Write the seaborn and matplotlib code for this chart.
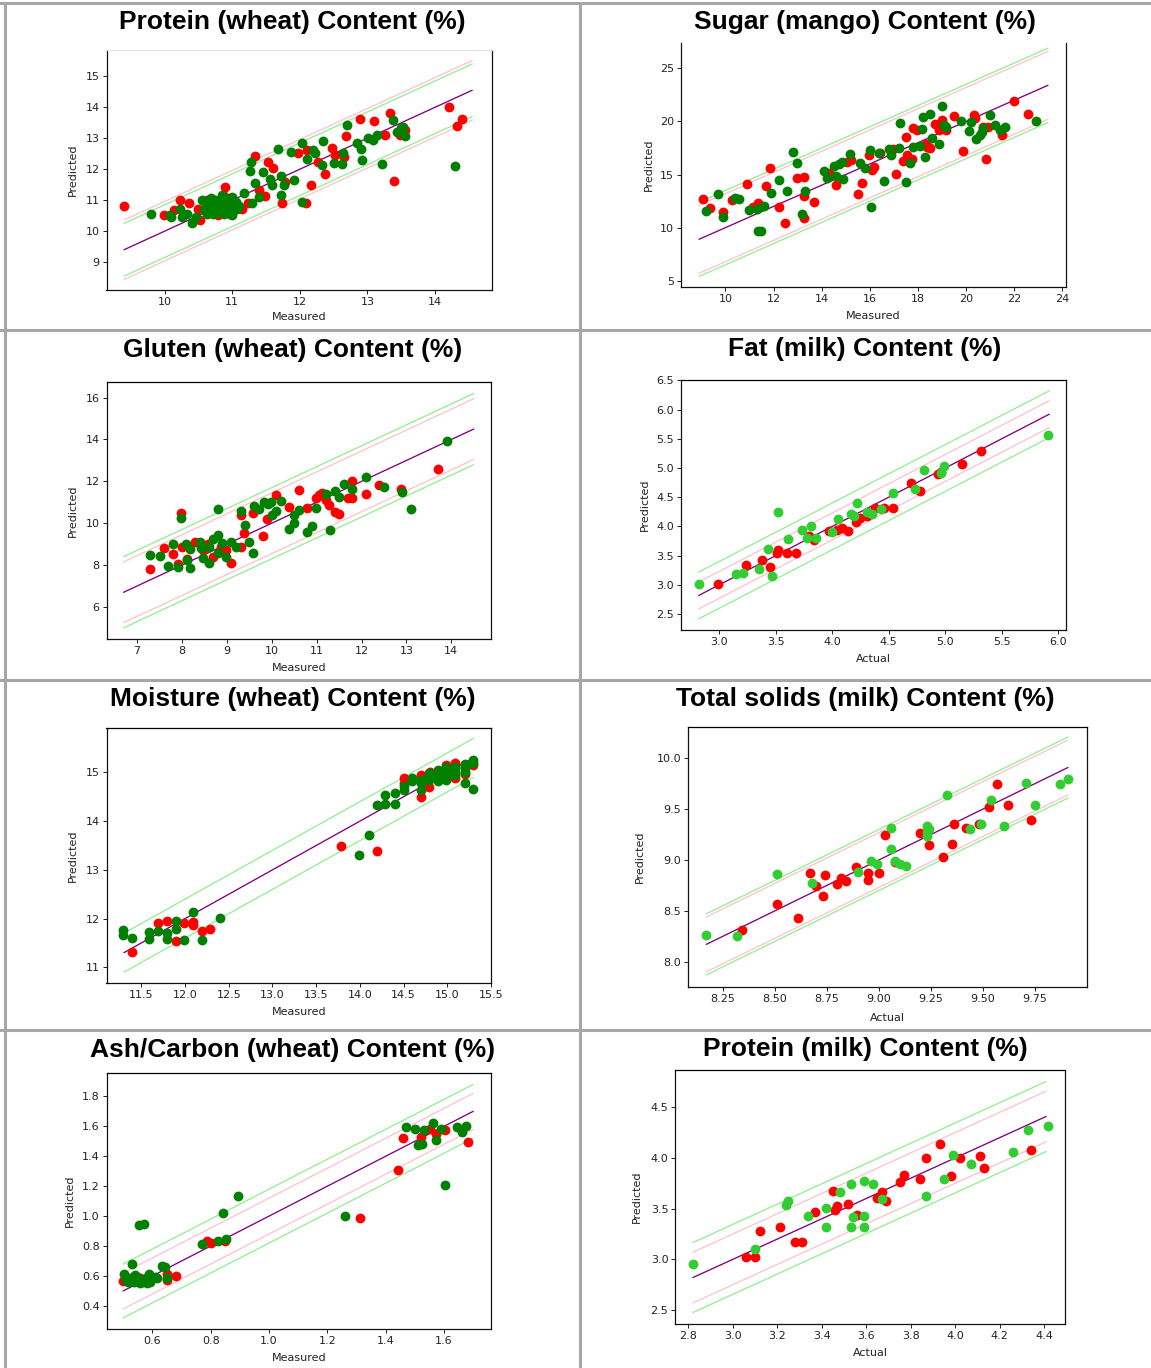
import numpy as np
import matplotlib
matplotlib.use("Agg")
import matplotlib.pyplot as plt
from matplotlib.lines import Line2D
from matplotlib.ticker import MultipleLocator
import seaborn as sns

# figure size in pixels (dpi 100)
W, H = 1151, 1368

# ---------------- data: (measured, predicted) ----------------
# Protein (wheat)
pw_red = [(9.40, 10.81), (9.99, 10.51), (10.22, 11.00), (10.14, 10.68), (10.36, 10.90), (10.49, 10.73),
          (10.52, 10.36), (10.63, 11.00), (10.88, 11.13), (10.79, 10.52), (11.01, 10.90), (11.15, 10.70),
          (10.89, 11.43), (11.24, 10.90), (11.33, 12.44), (11.40, 11.33), (11.48, 11.13), (11.53, 12.22),
          (11.60, 12.03), (11.73, 10.90), (11.78, 11.60), (11.97, 12.51), (12.09, 10.90), (12.11, 12.62),
          (12.16, 11.49), (12.27, 12.24), (12.37, 11.86), (12.48, 12.70), (12.52, 12.46), (12.66, 12.40),
          (12.69, 13.07), (12.89, 13.61), (13.10, 13.55), (13.26, 13.11), (13.33, 13.83), (13.40, 11.62),
          (13.48, 13.10), (13.56, 13.27), (14.21, 14.02), (14.32, 13.39), (14.40, 13.61), (10.74, 10.68),
          (10.96, 10.57), (10.85, 10.79)]
pw_green = [(9.80, 10.54), (10.08, 10.52), (10.09, 10.46), (10.22, 10.73), (10.25, 10.46), (10.33, 10.57),
            (10.41, 10.25), (10.47, 10.46), (10.55, 11.00), (10.60, 10.68), (10.66, 10.84), (10.71, 10.57),
            (10.77, 10.95), (10.82, 10.73), (10.88, 10.57), (10.90, 11.06), (10.96, 10.84), (11.00, 11.11),
            (11.00, 10.52), (11.07, 10.73), (11.18, 11.22), (11.29, 10.90), (11.28, 12.22), (11.27, 11.95),
            (11.34, 11.57), (11.40, 11.11), (11.45, 11.91), (11.56, 11.68), (11.59, 11.49), (11.67, 12.64),
            (11.72, 11.79), (11.72, 11.16), (11.77, 11.49), (11.87, 12.56), (11.91, 11.65), (12.03, 12.86),
            (12.03, 10.95), (12.11, 12.32), (12.19, 12.62), (12.23, 12.51), (12.33, 12.13), (12.35, 12.92),
            (12.51, 12.21), (12.63, 12.17), (12.64, 12.51), (12.70, 13.44), (12.84, 12.86), (12.91, 12.66),
            (12.92, 12.30), (13.01, 13.02), (13.08, 12.94), (13.14, 13.10), (13.22, 12.16), (13.38, 13.59),
            (13.44, 13.21), (13.50, 13.32), (13.53, 13.37), (13.56, 13.07), (14.30, 12.11), (10.58, 10.73),
            (10.68, 11.06), (10.79, 10.90), (10.85, 11.16), (10.93, 10.68), (10.65, 10.90), (10.72, 10.78),
            (10.80, 10.62), (10.90, 10.95), (10.98, 10.62), (11.05, 10.95), (10.75, 11.00), (10.62, 10.55),
            (10.95, 10.75), (11.10, 10.80)]
pw_span = [9.40, 14.55]
pw_green_band = 0.85
pw_pink_band = 0.96

# Sugar (mango)
sm_red = [(9.06, 12.66), (9.36, 11.88), (9.88, 11.50), (10.27, 12.60), (10.88, 14.07), (11.36, 12.28),
          (11.13, 11.97), (11.69, 13.92), (11.86, 15.61), (12.24, 11.97), (12.49, 10.40), (12.98, 14.64),
          (13.28, 14.73), (13.28, 12.98), (13.28, 10.87), (13.67, 12.38), (14.31, 15.11), (14.38, 14.95),
          (14.58, 14.00), (15.06, 16.21), (15.22, 16.37), (15.49, 13.13), (15.67, 14.17), (15.97, 16.84),
          (16.09, 15.42), (16.17, 15.74), (16.43, 17.00), (16.95, 17.37), (17.08, 15.02), (17.38, 16.27),
          (17.48, 18.56), (17.56, 16.84), (17.74, 16.43), (17.78, 19.35), (17.94, 19.19), (18.32, 17.84),
          (18.39, 17.62), (18.50, 17.46), (18.69, 19.76), (18.89, 19.19), (19.00, 20.13), (19.15, 19.19),
          (19.50, 20.54), (19.87, 17.24), (20.33, 20.60), (20.36, 20.29), (20.81, 16.43), (20.69, 19.50),
          (20.89, 19.50), (21.49, 18.72), (21.99, 21.92), (22.59, 20.70)]
sm_green = [(9.17, 11.59), (9.67, 13.16), (9.88, 10.97), (10.38, 12.82), (10.57, 12.69), (10.98, 11.66),
            (11.29, 11.72), (11.36, 9.71), (11.48, 9.71), (11.59, 12.06), (11.89, 13.23), (12.24, 14.48),
            (12.57, 13.48), (12.80, 17.09), (12.99, 16.05), (13.18, 11.28), (13.30, 13.48), (14.08, 15.36),
            (14.20, 14.64), (14.49, 15.83), (14.61, 14.86), (14.73, 15.99), (14.84, 16.15), (14.87, 14.54),
            (15.17, 16.93), (15.59, 16.05), (15.79, 15.58), (16.00, 17.31), (16.05, 11.91), (16.38, 17.00),
            (16.58, 14.39), (16.80, 17.40), (16.88, 16.84), (17.21, 17.46), (17.26, 19.88), (17.48, 14.32),
            (17.68, 16.11), (17.79, 17.56), (18.09, 17.68), (18.16, 19.25), (18.19, 20.38), (18.29, 16.62),
            (18.50, 20.70), (18.59, 18.47), (18.89, 17.87), (19.00, 21.45), (19.07, 19.66), (19.15, 19.50),
            (19.80, 20.07), (20.10, 19.10), (20.21, 19.98), (20.40, 18.31), (20.58, 18.72), (20.66, 19.03),
            (20.70, 19.35), (21.00, 20.60), (21.19, 19.66), (21.42, 19.19), (21.61, 19.44), (22.90, 20.04)]
sm_span = [8.90, 23.40]
sm_green_band = 3.5
sm_pink_band = 3.2

# Gluten (wheat)
gw_red = [(7.29, 7.82), (7.60, 8.83), (7.80, 8.53), (7.91, 8.04), (7.99, 10.47), (8.00, 8.85), (8.11, 8.28),
          (8.28, 9.09), (8.47, 8.72), (8.58, 9.00), (8.69, 8.40), (8.88, 8.88), (8.98, 8.72), (9.10, 8.09),
          (9.31, 10.39), (9.31, 8.85), (9.39, 9.52), (9.59, 10.47), (9.80, 9.41), (9.90, 10.19), (10.09, 11.35),
          (10.39, 10.79), (10.60, 11.59), (10.79, 10.71), (10.99, 11.19), (11.05, 11.35), (11.12, 11.43),
          (11.20, 11.11), (11.28, 10.87), (11.41, 10.55), (11.49, 10.43), (11.70, 11.22), (11.78, 11.22),
          (11.79, 12.02), (12.11, 11.38), (12.40, 11.83), (12.89, 11.62), (13.70, 12.58)]
gw_green = [(7.29, 8.48), (7.51, 8.45), (7.70, 7.97), (7.80, 9.01), (7.91, 7.93), (7.99, 10.27), (8.10, 9.00),
            (8.11, 8.25), (8.19, 8.75), (8.19, 7.85), (8.40, 9.09), (8.43, 8.83), (8.48, 8.32), (8.61, 8.09),
            (8.61, 8.88), (8.69, 9.23), (8.80, 10.68), (8.80, 9.44), (8.81, 8.60), (8.89, 9.04), (8.99, 8.40),
            (9.10, 9.09), (9.20, 8.88), (9.31, 10.59), (9.41, 9.92), (9.50, 9.09), (9.59, 8.60), (9.61, 10.82),
            (9.72, 10.67), (9.82, 11.00), (9.92, 10.90), (9.99, 11.00), (10.00, 10.39), (10.10, 10.59),
            (10.20, 11.06), (10.39, 9.71), (10.50, 10.03), (10.50, 10.39), (10.60, 10.63), (10.79, 9.60),
            (10.90, 9.89), (10.99, 10.75), (11.20, 11.38), (11.30, 9.68), (11.41, 11.54), (11.49, 11.27),
            (11.60, 11.88), (11.79, 11.64), (12.11, 12.23), (12.49, 11.75), (12.91, 11.51), (13.10, 10.68),
            (13.90, 13.93)]
gw_span = [6.70, 14.50]
gw_green_band = 1.7
gw_pink_band = 1.45

# Fat (milk)
fm_red = [(2.99, 3.01), (3.24, 3.35), (3.38, 3.43), (3.45, 3.31), (3.51, 3.55), (3.52, 3.59), (3.60, 3.55),
          (3.68, 3.54), (3.80, 3.83), (3.84, 3.77), (3.97, 3.92), (4.04, 3.94), (4.09, 3.98), (4.14, 3.92),
          (4.21, 4.08), (4.25, 4.14), (4.31, 4.18), (4.38, 4.32), (4.46, 4.31), (4.54, 4.32), (4.70, 4.74),
          (4.78, 4.61), (4.94, 4.89), (4.96, 4.94), (5.15, 5.07), (5.32, 5.29)]
fm_green = [(2.82, 3.01), (3.15, 3.18), (3.21, 3.20), (3.35, 3.27), (3.43, 3.62), (3.47, 3.16), (3.52, 4.24),
            (3.61, 3.79), (3.73, 3.94), (3.78, 3.81), (3.81, 4.01), (3.86, 3.80), (4.00, 3.90), (4.05, 4.12),
            (4.17, 4.22), (4.19, 4.18), (4.22, 4.41), (4.31, 4.24), (4.35, 4.21), (4.43, 4.30), (4.54, 4.58),
            (4.73, 4.64), (4.81, 4.97), (4.96, 4.91), (4.99, 5.03), (5.91, 5.57)]
fm_span = [2.82, 5.92]
fm_green_band = 0.40
fm_pink_band = 0.23

# Moisture (wheat)
mw_red = [(11.39, 11.32), (11.69, 11.90), (11.79, 11.94), (11.90, 11.53), (11.99, 11.90), (12.09, 11.92),
          (12.09, 11.86), (12.19, 11.75), (12.29, 11.79), (13.79, 13.49), (14.20, 13.38), (14.50, 14.88),
          (14.50, 14.78), (14.70, 14.95), (14.70, 14.49), (14.79, 14.71), (14.80, 15.02), (14.89, 14.92),
          (14.99, 15.16), (14.99, 14.92), (15.09, 15.19), (15.09, 14.88), (15.20, 14.97), (15.20, 15.16),
          (15.30, 15.16)]
mw_green = [(11.29, 11.77), (11.29, 11.66), (11.39, 11.60), (11.59, 11.73), (11.59, 11.58), (11.69, 11.75),
            (11.79, 11.70), (11.79, 11.58), (11.90, 11.94), (11.90, 11.78), (11.99, 11.55), (12.09, 12.14),
            (12.19, 11.55), (12.40, 12.01), (13.99, 13.31), (14.10, 13.72), (14.20, 14.34), (14.29, 14.54),
            (14.29, 14.36), (14.40, 14.58), (14.40, 14.36), (14.50, 14.64), (14.50, 14.73), (14.60, 14.88),
            (14.60, 14.82), (14.70, 14.64), (14.70, 14.85), (14.79, 14.99), (14.79, 14.85), (14.89, 15.05),
            (14.89, 14.82), (14.99, 15.11), (14.99, 15.02), (15.09, 15.09), (15.09, 15.02), (15.20, 15.18),
            (15.20, 15.09), (15.20, 14.78), (15.30, 15.26), (15.30, 14.66), (14.79, 14.92), (14.89, 14.90),
            (14.89, 14.97), (14.99, 14.85), (14.99, 14.93), (15.09, 14.95), (15.09, 15.12), (15.20, 15.00),
            (14.70, 14.78), (15.30, 15.20)]
mw_span = [11.30, 15.30]
mw_green_band = 0.40
mw_pink_band = None

# Total solids (milk)
ts_red = [(8.34, 8.31), (8.51, 8.57), (8.61, 8.43), (8.67, 8.87), (8.70, 8.74), (8.73, 8.65), (8.74, 8.85),
          (8.80, 8.76), (8.82, 8.82), (8.84, 8.79), (8.89, 8.93), (8.95, 8.80), (8.95, 8.87), (9.00, 8.87),
          (9.03, 9.25), (9.08, 8.98), (9.20, 9.27), (9.24, 9.15), (9.31, 9.03), (9.35, 9.16), (9.36, 9.35),
          (9.42, 9.31), (9.48, 9.35), (9.53, 9.52), (9.57, 9.75), (9.62, 9.54), (9.73, 9.39)]
ts_green = [(8.17, 8.26), (8.32, 8.25), (8.51, 8.86), (8.68, 8.77), (8.90, 8.88), (8.96, 8.99), (8.99, 8.96),
            (9.06, 9.31), (9.06, 9.11), (9.08, 8.99), (9.10, 8.96), (9.13, 8.94), (9.23, 9.33), (9.23, 9.24),
            (9.23, 9.28), (9.24, 9.30), (9.33, 9.64), (9.44, 9.30), (9.49, 9.35), (9.54, 9.59), (9.60, 9.33),
            (9.71, 9.76), (9.75, 9.54), (9.87, 9.75), (9.91, 9.80)]
ts_span = [8.17, 9.91]
ts_green_band = 0.30
ts_pink_band = 0.27

# Ash/Carbon (wheat)
aw_red = [(0.500, 0.569), (0.528, 0.585), (0.559, 0.585), (0.591, 0.574), (0.604, 0.585), (0.651, 0.611),
          (0.652, 0.574), (0.682, 0.600), (0.788, 0.836), (0.800, 0.818), (0.849, 0.834), (1.311, 0.990),
          (1.441, 1.308), (1.460, 1.524), (1.521, 1.531), (1.552, 1.582), (1.572, 1.548), (1.604, 1.575),
          (1.683, 1.497)]
aw_green = [(0.502, 0.611), (0.509, 0.574), (0.521, 0.585), (0.530, 0.678), (0.537, 0.563), (0.549, 0.596),
            (0.553, 0.941), (0.570, 0.945), (0.566, 0.563), (0.578, 0.585), (0.589, 0.611), (0.591, 0.558),
            (0.610, 0.596), (0.632, 0.669), (0.644, 0.663), (0.652, 0.585), (0.771, 0.814), (0.826, 0.836),
            (0.842, 1.019), (0.851, 0.845), (0.893, 1.137), (1.261, 1.001), (1.470, 1.597), (1.502, 1.582),
            (1.511, 1.475), (1.524, 1.482), (1.532, 1.573), (1.562, 1.624), (1.572, 1.508), (1.591, 1.582),
            (1.604, 1.208), (1.644, 1.593), (1.661, 1.559), (1.674, 1.602), (0.515, 0.563), (0.540, 0.607),
            (0.559, 0.551), (0.582, 0.551), (0.597, 0.578), (0.616, 0.585)]
aw_span = [0.50, 1.70]
aw_green_band = 0.18
aw_pink_band = 0.12

# Protein (milk)
pm_red = [(3.06, 3.02), (3.10, 3.02), (3.12, 3.28), (3.21, 3.32), (3.28, 3.17), (3.31, 3.17), (3.37, 3.47),
          (3.45, 3.67), (3.46, 3.49), (3.47, 3.53), (3.52, 3.55), (3.56, 3.44), (3.65, 3.61), (3.67, 3.66),
          (3.69, 3.58), (3.75, 3.76), (3.77, 3.83), (3.84, 3.79), (3.87, 4.00), (3.93, 4.14), (3.98, 3.82),
          (4.02, 4.00), (4.11, 4.02), (4.13, 3.90), (4.34, 4.08)]
pm_green = [(2.82, 2.95), (3.10, 3.10), (3.24, 3.54), (3.25, 3.58), (3.34, 3.43), (3.42, 3.51), (3.42, 3.32),
            (3.48, 3.66), (3.53, 3.74), (3.53, 3.32), (3.54, 3.42), (3.59, 3.77), (3.59, 3.43), (3.59, 3.32),
            (3.63, 3.74), (3.67, 3.60), (3.87, 3.62), (3.95, 3.79), (3.99, 4.03), (4.07, 3.94), (4.26, 4.06),
            (4.33, 4.28), (4.42, 4.32)]
pm_span = [2.82, 4.41]
pm_green_band = 0.345
pm_pink_band = 0.25

# ---------------- layout (pixel boxes: left, top, right, bottom) ----------------
GREEN = "#008000"
LIME = "#32cd32"
LEFT_CX, RIGHT_CX = 292.4, 865.0

panels = [
    dict(title="Protein (wheat) Content (%)", xlabel="Measured", red=pw_red, green=pw_green,
         span=pw_span, gband=pw_green_band, pband=pw_pink_band, gcolor=GREEN,
         box=(106.5, 50, 491.8, 290), xlim=(9.14, 14.84), ylim=(8.1, 15.85), xstep=1, ystep=1,
         cx=LEFT_CX, ty=22, xly=316.7, ylx=73.3, top="#e6e6e6"),
    dict(title="Sugar (mango) Content (%)", xlabel="Measured", red=sm_red, green=sm_green,
         span=sm_span, gband=sm_green_band, pband=sm_pink_band, gcolor=GREEN,
         box=(681.2, 42.7, 1065.8, 287.3), xlim=(8.16, 24.14), ylim=(4.38, 27.41), xstep=2, ystep=5,
         cx=RIGHT_CX, ty=22, xly=316, ylx=648.4, top=None),
    dict(title="Gluten (wheat) Content (%)", xlabel="Measured", red=gw_red, green=gw_green,
         span=gw_span, gband=gw_green_band, pband=gw_pink_band, gcolor=GREEN,
         box=(106.5, 381.7, 491.3, 639), xlim=(6.32, 14.89), ylim=(4.47, 16.76), xstep=1, ystep=2,
         cx=LEFT_CX, ty=350, xly=668.3, ylx=73.3, top="black"),
    dict(title="Fat (milk) Content (%)", xlabel="Actual", red=fm_red, green=fm_green,
         span=fm_span, gband=fm_green_band, pband=fm_pink_band, gcolor=LIME,
         box=(681.2, 380, 1066.2, 630), xlim=(2.666, 6.07), ylim=(2.23, 6.505), xstep=0.5, ystep=0.5,
         cx=RIGHT_CX, ty=349, xly=659, ylx=644.8, top="black"),
    dict(title="Moisture (wheat) Content (%)", xlabel="Measured", red=mw_red, green=mw_green,
         span=mw_span, gband=mw_green_band, pband=mw_pink_band, gcolor=GREEN,
         box=(106.5, 727.7, 491.3, 983.3), xlim=(11.1, 15.505), ylim=(10.67, 15.92), xstep=0.5, ystep=1,
         cx=LEFT_CX, ty=699, xly=1012.3, ylx=73.3, top="black"),
    dict(title="Total solids (milk) Content (%)", xlabel="Actual", red=ts_red, green=ts_green,
         span=ts_span, gband=ts_green_band, pband=ts_pink_band, gcolor=LIME,
         box=(688.4, 727.3, 1086.5, 986.7), xlim=(8.084, 9.999), ylim=(7.754, 10.305), xstep=0.25, ystep=0.5,
         cx=RIGHT_CX, ty=699, xly=1017.7, ylx=640, top="black"),
    dict(title="Ash/Carbon (wheat) Content (%)", xlabel="Measured", red=aw_red, green=aw_green,
         span=aw_span, gband=aw_green_band, pband=aw_pink_band, gcolor=GREEN,
         box=(106.5, 1072.7, 491.3, 1329), xlim=(0.443, 1.762), ylim=(0.246, 1.958), xstep=0.2, ystep=0.2,
         cx=LEFT_CX, ty=1050, xly=1358.3, ylx=69.6, top="black"),
    dict(title="Protein (milk) Content (%)", xlabel="Actual", red=pm_red, green=pm_green,
         span=pm_span, gband=pm_green_band, pband=pm_pink_band, gcolor=LIME,
         box=(675.3, 1070, 1065.1, 1324), xlim=(2.741, 4.495), ylim=(2.362, 4.868), xstep=0.2, ystep=0.5,
         cx=RIGHT_CX, ty=1049, xly=1353.3, ylx=636.4, top="black"),
]

sns.set_theme(style="ticks")
plt.rcParams["font.family"] = ["DejaVu Sans"]

fig = plt.figure(figsize=(W / 100, H / 100), dpi=100)
fig.patch.set_facecolor("white")

for p in panels:
    l, t, r, b = p["box"]
    ax = fig.add_axes([l / W, 1 - b / H, (r - l) / W, (b - t) / H])
    ax.set_facecolor("white")

    # reference lines: 1:1 line with two bands
    xs = np.array(p["span"])
    ax.plot(xs, xs + p["gband"], color="lightgreen", lw=0.9)
    ax.plot(xs, xs - p["gband"], color="lightgreen", lw=0.9)
    if p["pband"] is not None:
        ax.plot(xs, xs + p["pband"], color="pink", lw=0.9)
        ax.plot(xs, xs - p["pband"], color="pink", lw=0.9)
    ax.plot(xs, xs, color="purple", lw=0.95)

    red = np.array(p["red"])
    green = np.array(p["green"])
    sns.scatterplot(x=red[:, 0], y=red[:, 1], color="red", s=50, linewidth=0, ax=ax, zorder=3)
    sns.scatterplot(x=green[:, 0], y=green[:, 1], color=p["gcolor"], s=50, linewidth=0, ax=ax, zorder=3)

    ax.set_xlim(*p["xlim"])
    ax.set_ylim(*p["ylim"])
    ax.xaxis.set_major_locator(MultipleLocator(p["xstep"]))
    ax.yaxis.set_major_locator(MultipleLocator(p["ystep"]))
    ax.tick_params(labelsize=8, length=3, width=0.7, colors="#222222", pad=2)

    for side in ["left", "right", "bottom"]:
        ax.spines[side].set_color("#111111")
        ax.spines[side].set_linewidth(0.9)
    if p["top"] is None:
        ax.spines["top"].set_visible(False)
    else:
        ax.spines["top"].set_color(p["top"])
        ax.spines["top"].set_linewidth(0.9)

    ax.set_xlabel(p["xlabel"], fontsize=8, color="#222222")
    ax.set_ylabel("Predicted", fontsize=8, color="#222222")
    ax.xaxis.label.set_va("center")
    ax.yaxis.label.set_va("center")
    ax.xaxis.set_label_coords(0.5, (b - p["xly"]) / (b - t))
    ax.yaxis.set_label_coords((p["ylx"] - l) / (r - l), 0.5)

    fig.text(p["cx"] / W, 1 - p["ty"] / H, p["title"], ha="center", va="center",
             fontsize=19, fontweight="bold", family=["Liberation Sans", "DejaVu Sans"], color="black")

# table-like cell borders
border = dict(color="#a6a6a6", lw=2.2, transform=fig.transFigure)
for y in [3.0, 329.5, 680.0, 1029.5]:
    fig.add_artist(Line2D([0, 1], [1 - y / H, 1 - y / H], **border))
for x in [5.3, 579.5]:
    fig.add_artist(Line2D([x / W, x / W], [0, 1 - 3.0 / H], **border))

fig.savefig("out.png", dpi=100, facecolor="white")
